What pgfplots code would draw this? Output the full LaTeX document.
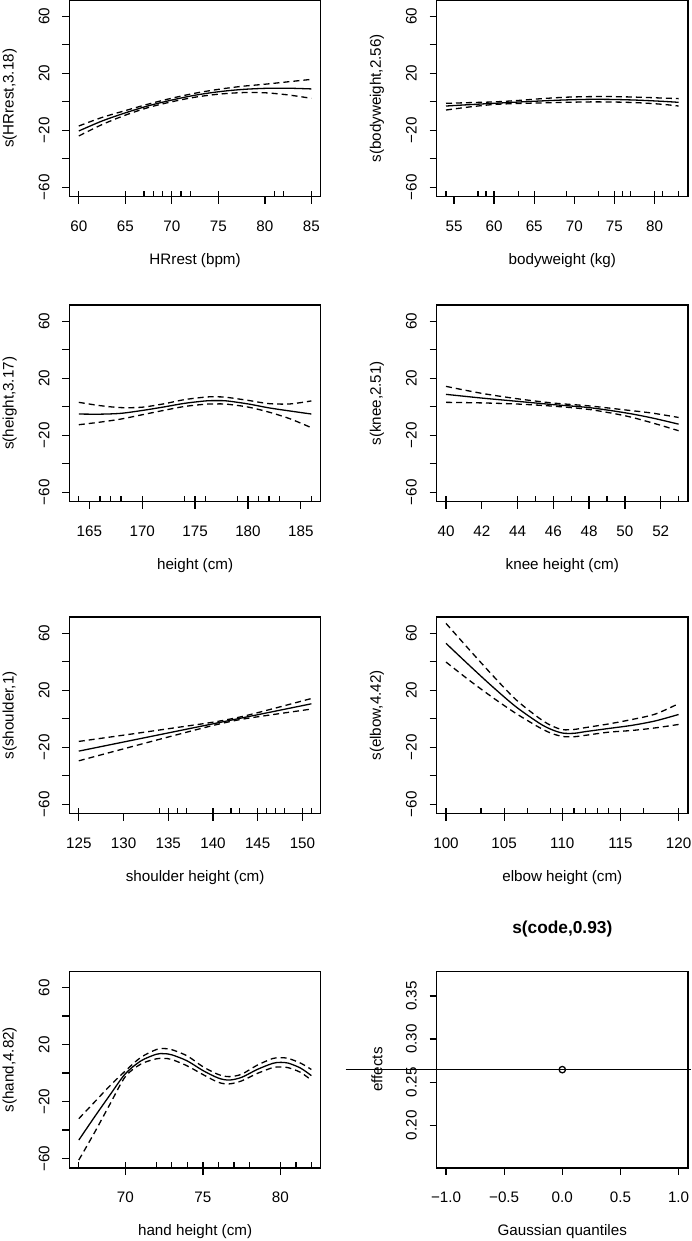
\documentclass[border=0pt]{standalone}
\usepackage{pgfplots}
\pgfplotsset{compat=1.18}
\usepackage{fontspec}
\setmainfont{Liberation Sans}

% short inward tick used for the rug of observed values
\pgfdeclareplotmark{rug}{\pgfpathmoveto{\pgfpointorigin}\pgfpathlineto{\pgfpoint{0pt}{3pt}}\pgfusepathqstroke}

\pgfplotsset{
  gamplot/.style={
    scale only axis, width=125.6pt, height=98.35pt,
    anchor=south west,
    axis line style={line width=0.65pt, black},
    every tick/.style={line width=0.65pt, black},
    tick align=outside, major tick length=3.5pt,
    xtick pos=bottom, ytick pos=left,
    ymin=-66.6, ymax=71.4,
    ytick={-60,-40,...,60},
    yticklabels={−60,,−20,,20,,60},
    /pgf/number format/assume math mode=true,
    xticklabel style={anchor=north, inner sep=0pt},
    yticklabel style={anchor=south, rotate=90, inner sep=0pt},
    xticklabel shift=8.25pt, yticklabel shift=6.3pt,
    every axis x label/.style={at={(axis description cs:0.5,-0.325)}, anchor=center},
    every axis y label/.style={at={(axis description cs:-0.238,0.5)}, rotate=90, anchor=center},
  },
  fit/.style={black, line width=0.65pt, smooth, no marks},
  band/.style={black, line width=0.65pt, smooth, no marks, dash pattern=on 3pt off 2pt},
  rugs/.style={black, only marks, mark=rug, mark options={line width=0.65pt, solid}},
}

\begin{document}
\fontsize{7.6}{9}\selectfont
\begin{tikzpicture}
\useasboundingbox (0pt,0pt) rectangle (345.5pt,620.5pt);

% ---------- resting heart rate ----------
\begin{axis}[gamplot, at={(34.75pt,522.15pt)}, xmin=59, xmax=86, xtick={60,65,...,85},
  xlabel={HRrest (bpm)}, ylabel={s(HRrest,3.18)}]
\addplot[fit] coordinates {(60,-20.5) (62.5,-13.5) (65,-7.8) (67.5,-2.8) (70,1.2) (72.5,4.6) (75,7.0) (77.5,8.6) (80,9.4) (82.5,9.5) (85,9.0)};
\addplot[band] coordinates {(60,-17.0) (62.5,-11.0) (65,-6.2) (67.5,-1.6) (70,2.5) (72.5,6.0) (75,8.7) (77.5,10.8) (80,12.3) (82.5,14.0) (85,15.7)};
\addplot[band] coordinates {(60,-24.0) (62.5,-16.0) (65,-9.4) (67.5,-4.0) (70,0) (72.5,3.2) (75,5.3) (77.5,6.4) (80,6.3) (82.5,4.8) (85,2.4)};
\addplot[rugs] coordinates {(60,-66.6) (65,-66.6) (67,-66.6) (68,-66.6) (69,-66.6) (70,-66.6) (71,-66.6) (72,-66.6) (75,-66.6) (81,-66.6) (82,-66.6) (85,-66.6)};
\end{axis}

% ---------- body weight ----------
\begin{axis}[gamplot, at={(218.35pt,522.15pt)}, xmin=52.84, xmax=84.16, xtick={55,60,...,80},
  xlabel={bodyweight (kg)}, ylabel={s(bodyweight,2.56)}]
\addplot[fit] coordinates {(54,-3.0) (57,-2.0) (60,-1.1) (63,-0.2) (66,0.6) (69,1.3) (72,1.7) (75,1.6) (78,1.1) (81,0.3) (83,-0.4)};
\addplot[band] coordinates {(54,-1.1) (57,-0.6) (60,-0.1) (63,0.9) (66,2.2) (69,3.2) (72,3.6) (75,3.6) (78,3.2) (81,2.6) (83,2.2)};
\addplot[band] coordinates {(54,-5.8) (57,-3.6) (60,-1.9) (63,-1.2) (66,-0.8) (69,-0.4) (72,-0.1) (75,-0.2) (78,-0.7) (81,-1.8) (83,-3.0)};
\addplot[rugs] coordinates {(54,-66.6) (58,-66.6) (59,-66.6) (60,-66.6) (63,-66.6) (65,-66.6) (69,-66.6) (73,-66.6) (75,-66.6) (76,-66.6) (77,-66.6) (80,-66.6) (81,-66.6) (83,-66.6)};
\end{axis}

% ---------- height ----------
\begin{axis}[gamplot, at={(34.75pt,369.65pt)}, xmin=163.12, xmax=186.88, xtick={165,170,...,185},
  xlabel={height (cm)}, ylabel={s(height,3.17)}]
\addplot[fit] coordinates {(164,-5.1) (166,-5.2) (168,-4.6) (170,-2.6) (172,-0.2) (174,2.4) (176,4.1) (177,4.3) (178,4.1) (180,2.0) (182,-0.8) (184,-3.0) (186,-5.1)};
\addplot[band] coordinates {(164,3.1) (166,0.8) (168,-0.6) (170,-0.3) (172,2.0) (174,5.0) (176,6.8) (177,7.0) (178,6.6) (180,4.5) (182,2.2) (184,2.0) (186,4.1)};
\addplot[band] coordinates {(164,-12.6) (166,-10.8) (168,-8.6) (170,-5.6) (172,-2.6) (174,0.2) (176,1.8) (177,2.0) (178,1.8) (180,-0.2) (182,-3.8) (184,-8.5) (186,-14.7)};
\addplot[rugs] coordinates {(164,-66.6) (166,-66.6) (167,-66.6) (168,-66.6) (170,-66.6) (174,-66.6) (175,-66.6) (176,-66.6) (179,-66.6) (180,-66.6) (181,-66.6) (182,-66.6) (183,-66.6) (186,-66.6)};
\end{axis}

% ---------- knee height ----------
\begin{axis}[gamplot, at={(218.35pt,369.65pt)}, xmin=39.48, xmax=53.52, xtick={40,42,...,52},
  xlabel={knee height (cm)}, ylabel={s(knee,2.51)}]
\addplot[fit] coordinates {(40,8.7) (42,6.1) (44,3.8) (46,1.5) (48,-0.6) (50,-4.2) (51.5,-7.8) (53,-12.2)};
\addplot[band] coordinates {(40,14.3) (42,9.4) (44,5.6) (46,2.6) (48,0.6) (50,-2.2) (51.5,-4.4) (53,-7.5)};
\addplot[band] coordinates {(40,3.1) (42,2.7) (44,1.9) (46,0.4) (48,-1.9) (50,-6.3) (51.5,-11.2) (53,-16.8)};
\addplot[rugs] coordinates {(40,-66.6) (44,-66.6) (45,-66.6) (46,-66.6) (47,-66.6) (48,-66.6) (49,-66.6) (50,-66.6) (52,-66.6) (53,-66.6)};
\end{axis}

% ---------- shoulder height ----------
\begin{axis}[gamplot, at={(34.75pt,213.65pt)}, xmin=123.96, xmax=152.04, xtick={125,130,...,150},
  xlabel={shoulder height (cm)}, ylabel={s(shoulder,1)}]
\addplot[fit] coordinates {(125,-22.7) (151,10.5)};
\addplot[band] coordinates {(125,-15.9) (130,-11.5) (135,-7.0) (140,-2.4) (143,1.2) (146,5.9) (151,14.2)};
\addplot[band] coordinates {(125,-29.5) (130,-21.1) (135,-12.8) (140,-4.7) (143,-0.6) (146,2.3) (151,6.8)};
\addplot[rugs] coordinates {(125,-66.6) (134,-66.6) (135,-66.6) (136,-66.6) (137,-66.6) (140,-66.6) (142,-66.6) (143,-66.6) (145,-66.6) (146,-66.6) (147,-66.6) (148,-66.6) (150,-66.6) (151,-66.6)};
\end{axis}

% ---------- elbow height ----------
\begin{axis}[gamplot, at={(218.35pt,213.65pt)}, xmin=99.2, xmax=120.8, xtick={100,105,...,120},
  xlabel={elbow height (cm)}, ylabel={s(elbow,4.42)}]
\addplot[fit] coordinates {(100,52.9) (102,37.5) (104,22.5) (106,8.5) (108,-3.0) (109,-7.3) (110,-10.0) (111,-10.2) (112,-9.0) (114,-6.8) (116,-4.6) (118,-1.5) (120,3.0)};
\addplot[band] coordinates {(100,66.9) (102,48.5) (104,30.5) (106,13.5) (108,0.5) (109,-4.6) (110,-7.6) (111,-7.5) (112,-6.2) (114,-3.6) (116,-0.5) (118,3.3) (120,10.6)};
\addplot[band] coordinates {(100,39.8) (102,27.0) (104,15.0) (106,3.8) (108,-6.0) (109,-10.0) (110,-12.4) (111,-12.6) (112,-11.6) (114,-9.4) (116,-8.2) (118,-6.4) (120,-4.0)};
\addplot[rugs] coordinates {(100,-66.6) (103,-66.6) (105,-66.6) (107,-66.6) (109,-66.6) (110,-66.6) (111,-66.6) (112,-66.6) (113,-66.6) (114,-66.6) (115,-66.6) (117,-66.6) (120,-66.6)};
\end{axis}

% ---------- hand height ----------
\begin{axis}[gamplot, at={(34.75pt,36.5pt)}, xmin=66.4, xmax=82.6, xtick={70,75,80},
  xlabel={hand height (cm)}, ylabel={s(hand,4.82)}]
\addplot[fit] coordinates {(67,-47) (68,-31) (69,-15.5) (70,-0.5) (71,8.5) (72,13.2) (72.5,13.6) (73,12.8) (74,8.5) (75,1.8) (76,-3.5) (76.7,-4.9) (77.5,-3.0) (78.5,2.5) (79.5,6.8) (80,7.5) (80.5,7.0) (81.3,3.5) (82,-1.8)};
\addplot[band] coordinates {(67,-32) (68,-20.5) (69,-9) (70,1.5) (71,11) (72,16.5) (72.5,17.2) (73,16.4) (74,12) (75,4.5) (76,-1) (76.7,-2.5) (77.5,-0.8) (78.5,5.5) (79.5,10.2) (80,10.8) (80.5,10.3) (81.3,7) (82,2.5)};
\addplot[band] coordinates {(67,-61) (68,-42) (69,-22) (70,-2.5) (71,6.3) (72,10) (72.5,10.3) (73,9.5) (74,5) (75,-1) (76,-6.5) (76.7,-7.6) (77.5,-5.5) (78.5,-0.3) (79.5,3.8) (80,4.3) (80.5,3.8) (81.3,0.5) (82,-5)};
\addplot[rugs] coordinates {(67,-66.6) (70,-66.6) (72,-66.6) (73,-66.6) (74,-66.6) (75,-66.6) (76,-66.6) (77,-66.6) (78,-66.6) (80,-66.6) (81,-66.6) (82,-66.6)};
\end{axis}

% ---------- random effect: Gaussian QQ plot ----------
\begin{axis}[gamplot, at={(218.35pt,36.5pt)}, clip=false,
  xmin=-1.08, xmax=1.08, xtick={-1,-0.5,0,0.5,1},
  xticklabels={−1.0,−0.5,0.0,0.5,1.0},
  ymin=0.1505, ymax=0.3787, ytick={0.20,0.25,0.30,0.35},
  yticklabels={0.20,0.25,0.30,0.35},
  xlabel={Gaussian quantiles}, ylabel={effects},
  title={s(code,0.93)},
  title style={at={(axis description cs:0.5,1.1525)}, anchor=center, font=\bfseries\fontsize{8.65}{10}\selectfont}]
\addplot[black, line width=0.65pt, no marks] coordinates {(-1.864,0.2646) (1.106,0.2646)};
\addplot[black, only marks, mark=o, mark size=1.6pt, mark options={line width=0.65pt}] coordinates {(0,0.2646)};
\end{axis}
\end{tikzpicture}
\end{document}
